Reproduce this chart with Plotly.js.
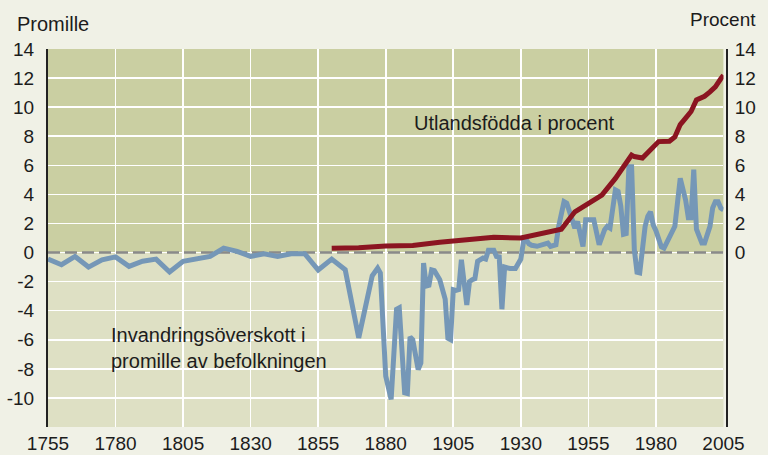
<!DOCTYPE html>
<html>
<head>
<meta charset="utf-8">
<script src="https://cdn.plot.ly/plotly-3.0.1.min.js"></script>
<style>
  html, body { margin: 0; padding: 0; background: #f0f1e6; }
  #chart { width: 768px; height: 455px; }
</style>
</head>
<body>
<div id="chart"></div>
<script>
// Invandringsöverskott (promille av befolkningen)
const migYears = [1755,1760,1765,1770,1775,1780,1785,1790,1795,1800,1805,1810,1815,1820,1825,1830,1835,1840,1845,1850,1855,1860,1865,1870,1875,1877,1878,1880,1882,1884,1885,1886,1887,1888,1889,1890,1892,1893,1894,1895,1896,1897,1898,1900,1902,1903,1904,1905,1906,1907,1908,1910,1911,1912,1913,1914,1916,1917,1918,1920,1921,1922,1923,1924,1926,1928,1930,1931,1932,1933,1934,1936,1938,1940,1941,1943,1944,1946,1947,1949,1950,1951,1953,1954,1957,1959,1961,1962,1963,1965,1966,1967,1968,1969,1970,1971,1972,1973,1974,1976,1977,1978,1979,1980,1981,1982,1983,1985,1987,1989,1991,1992,1993,1994,1995,1997,1998,2000,2001,2002,2003,2004,2005];
const migValues = [-0.45,-0.84,-0.27,-1.0,-0.5,-0.3,-0.95,-0.6,-0.45,-1.34,-0.6,-0.45,-0.27,0.3,0.08,-0.27,-0.08,-0.27,-0.08,-0.08,-1.2,-0.45,-1.18,-5.87,-1.6,-1.07,-1.4,-8.5,-10.1,-3.9,-3.8,-6.7,-9.65,-9.7,-5.8,-6.0,-8.05,-7.6,-0.72,-2.3,-2.25,-1.2,-1.25,-1.87,-3.2,-5.9,-6.0,-2.55,-2.6,-2.55,-0.5,-3.6,-2.0,-1.87,-1.8,-0.6,-0.38,-0.45,0.15,0.15,-0.27,-0.3,-3.9,-1.0,-1.1,-1.1,-0.45,0.76,0.88,0.6,0.5,0.43,0.5,0.65,0.43,0.54,1.8,3.5,3.4,2.14,1.68,2.14,0.42,2.25,2.25,0.54,1.57,1.8,1.68,4.3,4.2,3.2,1.25,1.3,5.9,5.9,0.2,-1.35,-1.4,1.8,2.5,2.8,1.9,1.5,1.0,0.4,0.3,1.1,1.8,5.1,3.6,2.4,2.4,5.7,1.6,0.65,0.65,1.8,3.06,3.5,3.5,3.06,2.94];

// Utlandsfödda i procent
const bornYears = [1860,1870,1880,1890,1900,1910,1920,1930,1940,1945,1950,1960,1965,1970,1971,1972,1975,1981,1985,1987,1989,1991,1993,1995,1998,2000,2002,2004,2005];
const bornValues = [0.3,0.33,0.45,0.48,0.7,0.9,1.05,1.0,1.4,1.6,2.8,3.95,5.1,6.5,6.7,6.6,6.5,7.63,7.65,7.95,8.8,9.25,9.7,10.5,10.75,11.05,11.4,11.95,12.2];

const xTicks = [1755,1780,1805,1830,1855,1880,1905,1930,1955,1980,2005];
const yTicksLeft = [-12,-10,-8,-6,-4,-2,0,2,4,6,8,10,12,14];
const yTextLeft = ['','-10','-8','-6','-4','-2','0','2','4','6','8','10','12','14'];
const yTicksRight = [0,2,4,6,8,10,12,14];

const labelLeftAxis = 'Promille';
const labelRightAxis = 'Procent';
const labelBorn = 'Utlandsfödda i procent';
const labelMig = 'Invandringsöverskott i<br>promille av befolkningen';

const yRange = [-12, 14];
const xRange = [xTicks[0], xTicks[xTicks.length - 1]];

const FONT = 'Liberation Sans, Arial, sans-serif';
const TXT = '#1c1c1c';

const traces = [
  {
    x: xRange, y: [0, 0], mode: 'lines', hoverinfo: 'skip',
    line: { color: '#8a8a8a', width: 2.6, dash: '12px,5px' }
  },
  {
    x: migYears, y: migValues, mode: 'lines',
    line: { color: '#7597b7', width: 5, shape: 'linear' }
  },
  {
    x: bornYears, y: bornValues, mode: 'lines', yaxis: 'y2',
    line: { color: '#8b1521', width: 5 }
  }
];

const layout = {
  width: 768, height: 455,
  margin: { l: 48, r: 40.5, t: 49, b: 28, pad: 0 },
  paper_bgcolor: '#f0f1e6',
  plot_bgcolor: '#dee0c4',
  showlegend: false,
  font: { family: FONT, size: 19, color: TXT },
  xaxis: {
    range: xRange, domain: [0, 0.9948],
    tickmode: 'array', tickvals: xTicks,
    showgrid: true, gridcolor: '#ffffff', gridwidth: 1.6,
    zeroline: false, showline: false, ticks: '',
    tickfont: { family: FONT, size: 19, color: TXT },
    ticklabelstandoff: 3
  },
  yaxis: {
    range: yRange, tickmode: 'array', tickvals: yTicksLeft, ticktext: yTextLeft,
    showgrid: true, gridcolor: '#ffffff', gridwidth: 1.6,
    zeroline: false, showline: true, linecolor: '#222222', linewidth: 2,
    ticks: '', tickfont: { family: FONT, size: 19, color: TXT },
    ticklabelstandoff: 8
  },
  yaxis2: {
    range: yRange, overlaying: 'y', side: 'right', anchor: 'free', position: 1,
    tickmode: 'array', tickvals: yTicksRight,
    showgrid: false, zeroline: false, showline: true, linecolor: '#222222', linewidth: 2,
    ticks: '', tickfont: { family: FONT, size: 19, color: TXT },
    ticklabelstandoff: 3
  },
  shapes: [
    { type: 'rect', layer: 'below', xref: 'x', yref: 'y', x0: xRange[0], x1: xRange[1], y0: 0, y1: yRange[1],
      fillcolor: '#cacfa2', line: { width: 0 } }
  ],
  annotations: [
    { text: labelLeftAxis, xref: 'paper', yref: 'paper', x: -0.0486, y: 1.065, xanchor: 'left', yanchor: 'middle',
      showarrow: false, font: { family: FONT, size: 20, color: TXT } },
    { text: labelRightAxis, xref: 'paper', yref: 'paper', x: 1.0453, y: 1.079, xanchor: 'right', yanchor: 'middle',
      showarrow: false, font: { family: FONT, size: 19, color: TXT } },
    { text: labelBorn, xref: 'x', yref: 'y', x: 1889.9, y: 8.9, xanchor: 'left', yanchor: 'middle',
      showarrow: false, font: { family: FONT, size: 20, color: TXT } },
    { text: labelMig, xref: 'x', yref: 'y', x: 1777.4, y: -6.6, xanchor: 'left', yanchor: 'middle', align: 'left',
      showarrow: false, font: { family: FONT, size: 20, color: TXT } }
  ]
};

Plotly.newPlot('chart', traces, layout, { displayModeBar: false, staticPlot: true });
</script>
</body>
</html>
